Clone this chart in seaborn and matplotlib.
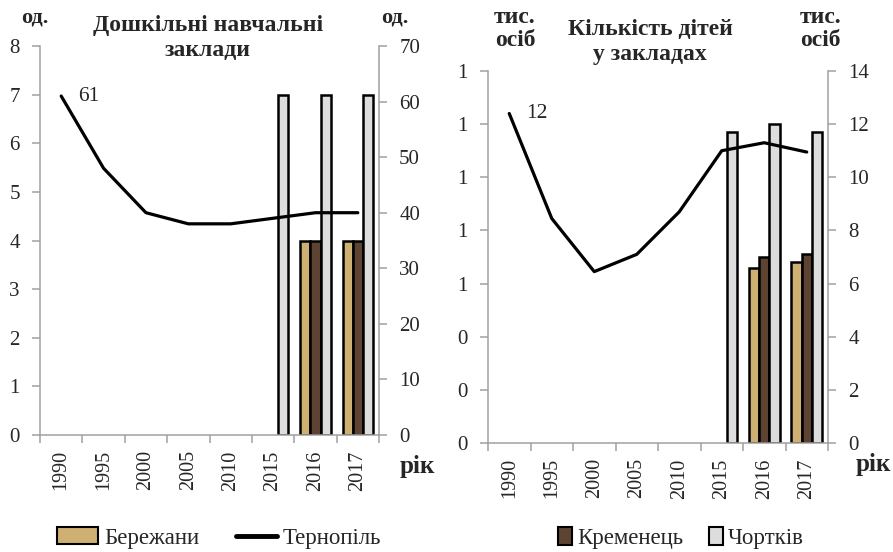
import numpy as np
import pandas as pd
import seaborn as sns
import matplotlib.pyplot as plt
from matplotlib.ticker import MultipleLocator, FormatStrFormatter
from matplotlib.patches import Patch
from matplotlib.lines import Line2D

# =========================================
# DATA
# =========================================
years = ["1990", "1995", "2000", "2005", "2010", "2015", "2016", "2017"]
towns = ["Бережани", "Кременець", "Чортків"]

# дошкільні навчальні заклади, од.
berezhany_zakl = [np.nan, np.nan, np.nan, np.nan, np.nan, np.nan, 4, 4]
kremenets_zakl = [np.nan, np.nan, np.nan, np.nan, np.nan, np.nan, 4, 4]
chortkiv_zakl = [np.nan, np.nan, np.nan, np.nan, np.nan, 7, 7, 7]
ternopil_zakl = [61, 48, 40, 38, 38, 39, 40, 40]

# кількість дітей у закладах, тис. осіб
berezhany_dity = [np.nan, np.nan, np.nan, np.nan, np.nan, np.nan, 0.66, 0.68]
kremenets_dity = [np.nan, np.nan, np.nan, np.nan, np.nan, np.nan, 0.70, 0.71]
chortkiv_dity = [np.nan, np.nan, np.nan, np.nan, np.nan, 1.17, 1.20, 1.17]
ternopil_dity = [12.4, 8.45, 6.45, 7.1, 8.7, 11.0, 11.3, 10.95]

colors = {"Бережани": "#cdb072", "Кременець": "#5c4332", "Чортків": "#dddddd"}
grey = "#a0a0a0"

# =========================================
# STYLE
# =========================================
sns.set_theme(style="white")
plt.rcParams["font.family"] = ["Liberation Serif", "DejaVu Serif"]
plt.rcParams["font.size"] = 15


def long_df(b, k, c):
    return pd.DataFrame({
        "year": years * 3,
        "town": [towns[0]] * len(years) + [towns[1]] * len(years) + [towns[2]] * len(years),
        "value": list(b) + list(k) + list(c),
    })


def draw(rect, bars, line, ymax, ystep, y2max, y2step, fmt):
    ax = fig.add_axes(rect)
    sns.barplot(data=bars, x="year", y="value", hue="town", hue_order=towns,
                palette=colors, saturation=1, width=0.72, errorbar=None,
                edgecolor="black", linewidth=1.8, legend=False, ax=ax)
    ax2 = ax.twinx()
    sns.lineplot(x=np.arange(len(years)), y=line, color="black",
                 linewidth=2.3, ax=ax2)
    ax2.annotate(f"{line[0]:.0f}", (0, line[0]), xytext=(12, 0),
                 textcoords="offset points", ha="left", va="center",
                 fontsize=15.5)

    ax.set_xlim(-0.5, len(years) - 0.5)
    ax.set_ylim(0, ymax)
    ax2.set_ylim(0, y2max)
    ax.yaxis.set_major_locator(MultipleLocator(ystep))
    ax.yaxis.set_major_formatter(FormatStrFormatter(fmt))
    ax2.yaxis.set_major_locator(MultipleLocator(y2step))
    ax.set_xlabel("")
    ax.set_ylabel("")
    ax2.set_ylabel("")

    for a in (ax, ax2):
        for s in a.spines.values():
            s.set_visible(False)
    ax.spines["left"].set_visible(True)
    ax.spines["bottom"].set_visible(True)
    ax2.spines["right"].set_visible(True)
    for s in (ax.spines["left"], ax.spines["bottom"], ax2.spines["right"]):
        s.set_color(grey)
        s.set_linewidth(1.1)

    ax.tick_params(axis="y", direction="out", length=5.5, width=1.1,
                   color=grey, pad=9, labelsize=15, left=True)
    ax2.tick_params(axis="y", direction="out", length=5.5, width=1.1,
                    color=grey, pad=9, labelsize=15, right=True)
    ax.set_xticks(np.arange(len(years)))
    ax.set_xticklabels(years, rotation=90)
    ax.set_xticks(np.arange(len(years) + 1) - 0.5, minor=True)
    ax.tick_params(axis="x", which="major", length=0, pad=11, labelsize=14.5)
    ax.tick_params(axis="x", which="minor", direction="out", length=5.5,
                   width=1.1, color=grey, bottom=True)
    return ax, ax2


fig = plt.figure(figsize=(8.93, 5.52), dpi=100)

draw([40 / 893, 1 - 435 / 552, 339 / 893, 389 / 552],
     long_df(berezhany_zakl, kremenets_zakl, chortkiv_zakl), ternopil_zakl,
     8, 1, 70, 10, "%.0f")
draw([488 / 893, 1 - 443 / 552, 340 / 893, 372 / 552],
     long_df(berezhany_dity, kremenets_dity, chortkiv_dity), ternopil_dity,
     1.4, 0.2, 14, 2, "%.0f")

# titles and unit labels
bold = dict(fontweight="bold", ha="center", va="center")
fig.text(208 / 893, 1 - 38 / 552, "Дошкільні навчальні\nзаклади",
         linespacing=1.2, fontsize=17, **bold)
fig.text(35 / 893, 1 - 17 / 552, "од.", fontsize=16, **bold)
fig.text(395 / 893, 1 - 17 / 552, "од.", fontsize=16, **bold)
fig.text(650 / 893, 1 - 42 / 552, "Кількість дітей\nу закладах",
         linespacing=1.2, fontsize=17, **bold)
fig.text(515 / 893, 1 - 29 / 552, "тис.\nосіб", linespacing=1.15,
         fontsize=17, **bold)
fig.text(820 / 893, 1 - 29 / 552, "тис.\nосіб", linespacing=1.15,
         fontsize=17, **bold)
fig.text(417 / 893, 1 - 466 / 552, "рік", fontsize=18, **bold)
fig.text(873 / 893, 1 - 465 / 552, "рік", fontsize=18, **bold)

# legends
h_left = [Patch(facecolor=colors["Бережани"], edgecolor="black", linewidth=1.5),
          Line2D([], [], color="black", linewidth=3.5)]
fig.legend(h_left, ["Бережани", "Тернопіль"], loc="center left",
           bbox_to_anchor=(57 / 893, 1 - 538 / 552), ncol=2, frameon=False,
           borderpad=0, borderaxespad=0, handlelength=1.8, handletextpad=0.25,
           columnspacing=1.6, fontsize=16.5)
h_right = [Patch(facecolor=colors["Кременець"], edgecolor="black", linewidth=1.5),
           Patch(facecolor=colors["Чортків"], edgecolor="black", linewidth=1.5)]
fig.legend(h_right, ["Кременець", "Чортків"], loc="center left",
           bbox_to_anchor=(558 / 893, 1 - 538 / 552), ncol=2, frameon=False,
           borderpad=0, borderaxespad=0, handlelength=0.6, handleheight=0.8,
           handletextpad=0.25, columnspacing=1.1, fontsize=16.5)

fig.savefig("out.png", dpi=100)
